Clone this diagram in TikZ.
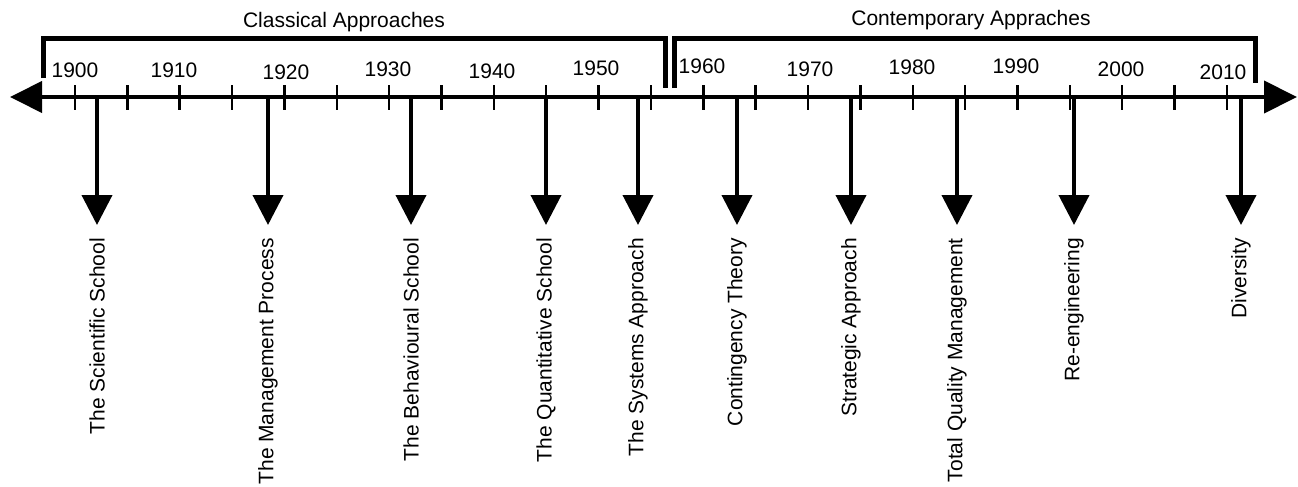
\documentclass[tikz,border=0pt]{standalone}
\usepackage{fontspec}
\setmainfont{Liberation Sans}
\usetikzlibrary{arrows.meta}
\tikzset{
  lbl/.style={font=\fontsize{21}{25}\selectfont, inner sep=0pt},
  event/.style={lbl, rotate=90, anchor=east, inner xsep=13pt},
  drop/.style={line width=4pt, -{Triangle[width=30pt,length=30pt]}},
  bracket/.style={line width=5pt},
  tick/.style={line width=2.5pt},
}
\begin{document}
\begin{tikzpicture}[x=1pt,y=-1pt]
  \useasboundingbox (0,0) rectangle (1298,487);
  \coordinate (L) at (10,97);
  \coordinate (R) at (1297,97);
  \draw[line width=4pt, {Triangle[width=31pt,length=32pt]}-{Triangle[width=32pt,length=33pt]}] (L) -- (R); % time line
  \foreach \k in {0,...,22}
    \draw[tick] (75+52.36*\k,85) -- (75+52.36*\k,110);
  % years
  \foreach \yr/\x/\y in {1900/75/70.5, 1910/174/70, 1920/286/72, 1930/388/69,
      1940/492/71, 1950/596/68, 1960/702/66, 1970/810/69, 1980/912/67,
      1990/1016/66, 2000/1121/69.5, 2010/1223/72.5}
    \node[lbl] (y\yr) at (\x,\y) {\yr};
  % schools
  \foreach \x/\n/\txt in {97/sci/The Scientific School, 268/mgt/The Management Process,
      411/beh/The Behavioural School, 546/qua/The Quantitative School,
      638/sys/The Systems Approach, 737/con/Contingency Theory,
      851/str/Strategic Approach, 957/tqm/Total Quality Management,
      1074/ree/Re-engineering, 1241/div/Diversity}{
    \coordinate (t\n) at (\x,97);
    \node[event] (\n) at (\x,225) {\txt};
    \draw[drop] (t\n) -- (\n.east);
  }
  \draw[bracket] (43,78) |- (665,39) -- (665,88);     % classical
  \draw[bracket] (674,88) |- (1255,39) -- (1255,83);  % contemporary
  \node[lbl, anchor=base] (classical) at (344,28) {Classical Approaches};
  \node[lbl, anchor=base] (contemporary) at (971,26) {Contemporary Appraches};
\end{tikzpicture}
\end{document}
